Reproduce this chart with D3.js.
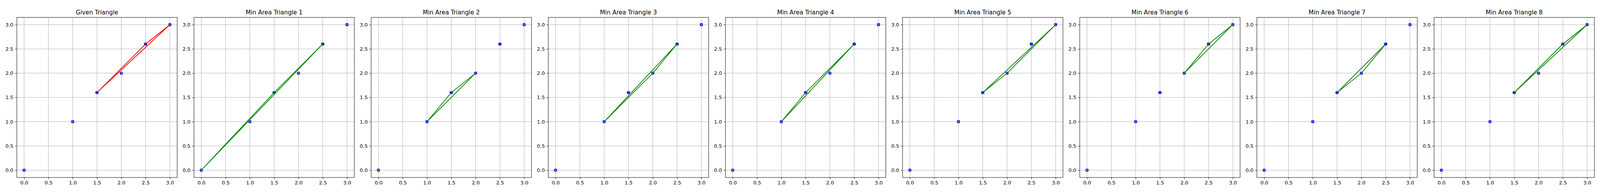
<!DOCTYPE html>
<html>

<head>
  <title>Min Area Triangles</title>
  <style>
    html, body { margin: 0; padding: 0; background: #fff; width: 100%; height: 100%; overflow: hidden; }
    svg { display: block; width: 100vw; height: 100vh; }
    text { font-family: "DejaVu Sans", sans-serif; }
  </style>
</head>

<body>
  <svg id="svg"></svg>

  <script src="https://d3js.org/d3.v7.min.js"></script>
  <script>
    // points
    let xs = [0, 1, 1.5, 2, 2.5, 3];
    let ys = [0, 1, 1.6, 2, 2.6, 3];

    let titles = ["Given Triangle", "Min Area Triangle 1", "Min Area Triangle 2", "Min Area Triangle 3",
      "Min Area Triangle 4", "Min Area Triangle 5", "Min Area Triangle 6", "Min Area Triangle 7", "Min Area Triangle 8"];

    // triangle vertices (point indices) per panel
    let triangles = [[2, 4, 5], [0, 2, 4], [1, 2, 3], [1, 3, 4], [1, 2, 4], [2, 3, 5], [3, 4, 5], [2, 3, 4], [2, 4, 5]];
    let triColors = ["red", "green", "green", "green", "green", "green", "green", "green", "green"];

    let tickValues = [0, 0.5, 1, 1.5, 2, 2.5, 3];

    let totalWidth = 4500, totalHeight = 500;
    let size = 451, panelTop = 24.3, left0 = 47.3, step = 498.25;

    // viewBox keeps the whole figure inside whatever viewport we get
    let svg = d3.select("#svg")
      .attr("viewBox", `0 0 ${totalWidth} ${totalHeight}`)
      .attr("preserveAspectRatio", "xMidYMid meet");

    let pts = xs.map((x, i) => ({ x: x, y: ys[i] }));

    let x = d3.scaleLinear().domain([-0.15, 3.15]).range([0, size]);
    let y = d3.scaleLinear().domain([-0.15, 3.15]).range([size, 0]);

    titles.forEach((title, i) => {
      let g = svg.append("g").attr("transform", `translate(${left0 + i * step}, ${panelTop})`);

      // scatter first, grid lies on top of it like matplotlib
      g.selectAll("circle")
        .data(pts)
        .join("circle")
        .attr("cx", d => x(d.x))
        .attr("cy", d => y(d.y))
        .attr("r", 4.6)
        .attr("fill", "#0000ff");

      let grid = g.append("g").attr("stroke", "#b0b0b0").attr("stroke-width", 1.1);
      grid.selectAll(".gx")
        .data(tickValues)
        .join("line")
        .attr("class", "gx")
        .attr("x1", d => x(d)).attr("x2", d => x(d))
        .attr("y1", 0).attr("y2", size);
      grid.selectAll(".gy")
        .data(tickValues)
        .join("line")
        .attr("class", "gy")
        .attr("y1", d => y(d)).attr("y2", d => y(d))
        .attr("x1", 0).attr("x2", size);

      let tri = triangles[i].map(k => pts[k]);
      tri.push(tri[0]);
      g.append("path")
        .datum(tri)
        .attr("d", d3.line().x(d => x(d.x)).y(d => y(d.y)))
        .attr("fill", "none")
        .attr("stroke", triColors[i])
        .attr("stroke-width", 2)
        .attr("stroke-linejoin", "round");

      let xAxis = g.append("g")
        .attr("transform", `translate(0, ${size})`)
        .call(d3.axisBottom(x).tickValues(tickValues).tickFormat(d3.format(".1f")).tickSize(4.9).tickPadding(4.9));
      let yAxis = g.append("g")
        .call(d3.axisLeft(y).tickValues(tickValues).tickFormat(d3.format(".1f")).tickSize(4.9).tickPadding(4.9));

      [xAxis, yAxis].forEach(a => {
        a.select(".domain").remove();
        a.selectAll("text").attr("font-size", 13.9).attr("fill", "#000");
        a.selectAll("line").attr("stroke", "#000").attr("stroke-width", 1.1);
      });

      g.append("rect")
        .attr("width", size)
        .attr("height", size)
        .attr("fill", "none")
        .attr("stroke", "#000")
        .attr("stroke-width", 1.1);

      g.append("text")
        .attr("x", size / 2)
        .attr("y", -8.3)
        .attr("text-anchor", "middle")
        .attr("font-size", 16.7)
        .attr("fill", "#000")
        .text(title);
    });
  </script>
</body>

</html>
